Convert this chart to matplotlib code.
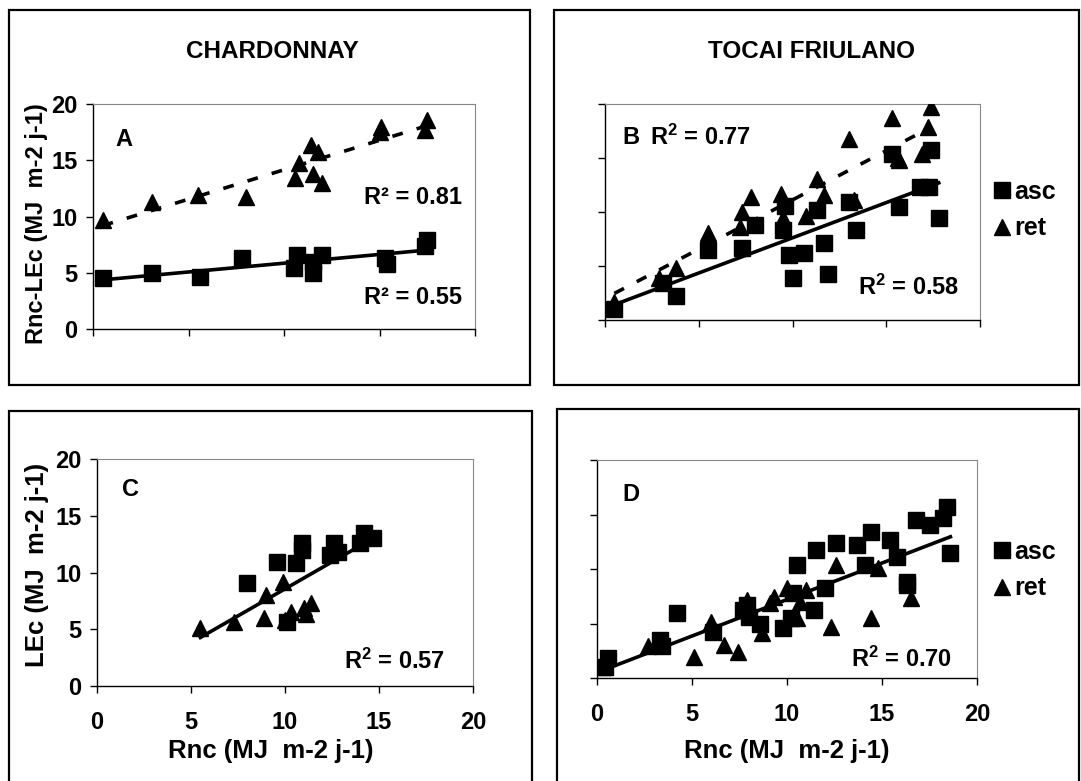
import numpy as np
import matplotlib.pyplot as plt
from matplotlib.patches import Rectangle
from matplotlib.lines import Line2D

plt.rcParams['font.family'] = ['Liberation Sans', 'DejaVu Sans']
plt.rcParams['font.weight'] = 'bold'
plt.rcParams['mathtext.fontset'] = 'custom'
plt.rcParams['mathtext.rm'] = 'Liberation Sans:bold'
plt.rcParams['mathtext.bf'] = 'Liberation Sans:bold'
plt.rcParams['mathtext.it'] = 'Liberation Sans:bold'

# --- A : Chardonnay, Rnc-LEc vs Rnc ---
a_asc_x = [0.5, 3.1, 5.6, 7.8, 10.5, 10.7, 11.5, 11.5, 12.0, 15.3, 15.4, 17.5, 17.4]
a_asc_y = [4.5, 5.0, 4.6, 6.3, 5.4, 6.6, 5.0, 6.0, 6.6, 6.3, 5.8, 7.9, 7.4]
a_ret_x = [0.5, 3.1, 5.5, 8.0, 10.6, 10.8, 11.4, 11.8, 11.5, 12.0, 15.1, 15.0, 17.5, 17.4]
a_ret_y = [9.7, 11.3, 11.9, 11.7, 13.4, 14.8, 16.4, 15.7, 13.8, 13.0, 18.0, 17.5, 18.6, 17.7]

# --- B : Tocai friulano, Rnc-LEc vs Rnc ---
b_asc_x = [0.5, 3.1, 3.8, 5.5, 7.3, 8.0, 9.5, 9.6, 9.8, 10.0, 10.6, 11.3, 11.7, 11.9,
           13.0, 13.4, 15.7, 16.8, 17.3, 17.8, 15.3, 17.4]
b_asc_y = [1.0, 3.4, 2.2, 6.5, 6.7, 8.8, 8.3, 10.6, 6.0, 3.9, 6.2, 10.2, 7.1, 4.3,
           10.9, 8.3, 10.5, 12.3, 12.3, 9.4, 15.4, 15.7]
b_ret_x = [0.5, 2.9, 3.8, 5.5, 7.2, 7.3, 7.8, 9.4, 9.5, 10.7, 11.3, 11.7, 13.0, 13.3,
           15.3, 15.7, 16.9, 17.2, 17.4, 15.6]
b_ret_y = [1.7, 3.9, 4.8, 8.1, 8.6, 10.0, 11.4, 11.7, 9.4, 9.6, 13.1, 11.6, 16.8, 11.1,
           18.7, 14.8, 15.4, 17.9, 19.7, 15.0]

# --- C : Chardonnay, LEc vs Rnc ---
c_asc_x = [8.0, 9.6, 10.6, 10.9, 10.9, 12.4, 12.6, 12.8, 14.0, 14.2, 14.7, 10.1]
c_asc_y = [9.1, 10.9, 10.8, 12.6, 12.0, 11.5, 12.6, 11.8, 12.6, 13.5, 13.0, 5.6]
c_ret_x = [5.5, 7.3, 8.9, 9.0, 9.9, 10.0, 10.3, 11.0, 11.1, 11.4]
c_ret_y = [5.1, 5.6, 6.0, 8.0, 9.2, 5.8, 6.5, 6.9, 6.3, 7.3]

# --- D : Tocai friulano, LEc vs Rnc ---
d_asc_x = [0.6, 0.4, 3.3, 3.4, 4.2, 6.1, 7.7, 8.0, 7.9, 8.6, 9.8, 10.2, 10.5, 10.3,
           11.4, 11.5, 12.0, 12.6, 13.7, 14.4, 14.1, 15.4, 15.8, 16.3, 16.8, 17.5,
           18.2, 18.4, 18.6, 16.3]
d_asc_y = [1.8, 1.0, 3.5, 2.9, 6.0, 4.2, 6.2, 5.6, 6.7, 5.0, 4.6, 5.5, 10.4, 7.8,
           6.2, 11.7, 8.3, 12.4, 12.2, 13.4, 10.4, 12.7, 11.1, 8.8, 14.5, 14.0,
           14.7, 15.7, 11.5, 8.5]
d_ret_x = [0.3, 2.7, 5.1, 6.0, 6.7, 7.4, 7.9, 8.7, 9.3, 10.0, 10.5, 11.0, 12.3, 12.6,
           14.4, 14.8, 16.5, 9.1, 10.7]
d_ret_y = [1.0, 2.9, 1.9, 5.1, 3.0, 2.4, 7.2, 4.1, 7.4, 8.3, 5.5, 8.1, 4.7, 10.4,
           5.5, 10.1, 7.3, 6.9, 7.0]

W, H = 1081, 781
fig = plt.figure(figsize=(W / 100, H / 100), dpi=100)


def px_rect(l, t, r, b):
    return [l / W, 1 - b / H, (r - l) / W, (b - t) / H]


def fitline(ax, x, y, ls):
    k = np.polyfit(x, y, 1)
    xs = np.array([min(x), max(x)])
    ax.plot(xs, np.polyval(k, xs), color='k', lw=2.6, ls=ls, zorder=3)


def setup(ax, xlabels, ylabels):
    ax.set_xlim(0, 20)
    ax.set_ylim(0, 20)
    ax.set_xticks([0, 5, 10, 15, 20])
    ax.set_yticks([0, 5, 10, 15, 20])
    for s in ['top', 'right']:
        ax.spines[s].set_color('#888888')
        ax.spines[s].set_linewidth(0.8)
    for s in ['left', 'bottom']:
        ax.spines[s].set_color('k')
        ax.spines[s].set_linewidth(1.0)
    ax.tick_params(direction='out', length=5, width=1, labelsize=17,
                   labelbottom=xlabels, labelleft=ylabels)
    ax.tick_params(axis='x', pad=13)
    ax.tick_params(axis='y', pad=6)


def points(ax, ax_, ay_, rx_, ry_):
    ax.plot(ax_, ay_, ls='none', marker='s', ms=11.5, color='k', zorder=4)
    ax.plot(rx_, ry_, ls='none', marker='^', ms=12, color='k', zorder=4)


def side_legend(ypix):
    h = [Line2D([], [], ls='none', marker='s', ms=11, color='k'),
         Line2D([], [], ls='none', marker='^', ms=11, color='k')]
    fig.legend(h, ['asc', 'ret'], loc='center left',
               bbox_to_anchor=(993 / W, 1 - ypix / H), frameon=False,
               fontsize=18, handlelength=0.7, handletextpad=0.15,
               labelspacing=0.5, borderpad=0, borderaxespad=0)


# panel A
axA = fig.add_axes(px_rect(93, 104, 475, 329))
setup(axA, False, True)
points(axA, a_asc_x, a_asc_y, a_ret_x, a_ret_y)
fitline(axA, a_asc_x, a_asc_y, '-')
fitline(axA, a_ret_x, a_ret_y, (0, (3, 4)))
axA.text(1.6, 16.8, 'A', fontsize=17, ha='center', va='center')
axA.text(19.3, 11.7, 'R² = 0.81', fontsize=17, ha='right', va='center')
axA.text(19.3, 2.8, 'R² = 0.55', fontsize=17, ha='right', va='center')
fig.text(37 / W, 1 - 224 / H, 'Rnc-LEc (MJ  m-2 j-1)', rotation=90,
         fontsize=17, ha='center', va='center')

# panel B
axB = fig.add_axes(px_rect(605, 104, 980, 320))
setup(axB, False, False)
points(axB, b_asc_x, b_asc_y, b_ret_x, b_ret_y)
fitline(axB, b_asc_x, b_asc_y, '-')
fitline(axB, b_ret_x, b_ret_y, (0, (3, 4)))
axB.text(1.4, 16.9, 'B', fontsize=17, ha='center', va='center')
axB.text(2.4, 16.9, r'R$^{2}$ = 0.77', fontsize=17, ha='left', va='center')
axB.text(18.9, 3.0, r'R$^{2}$ = 0.58', fontsize=17, ha='right', va='center')
side_legend(210)

# panel C
axC = fig.add_axes(px_rect(97, 459, 473, 686))
setup(axC, True, True)
points(axC, c_asc_x, c_asc_y, c_ret_x, c_ret_y)
fitline(axC, c_asc_x + c_ret_x, c_asc_y + c_ret_y, '-')
axC.text(1.8, 17.3, 'C', fontsize=17, ha='center', va='center')
axC.text(18.5, 2.2, r'R$^{2}$ = 0.57', fontsize=17, ha='right', va='center')
fig.text(37 / W, 1 - 565 / H, 'LEc (MJ  m-2 j-1)', rotation=90,
         fontsize=18.5, ha='center', va='center')
fig.text(271 / W, 1 - 751 / H, 'Rnc (MJ  m-2 j-1)', fontsize=18.5,
         ha='center', va='center')

# panel D
axD = fig.add_axes(px_rect(597, 460, 977, 678))
setup(axD, True, False)
points(axD, d_asc_x, d_asc_y, d_ret_x, d_ret_y)
fitline(axD, d_asc_x + d_ret_x, d_asc_y + d_ret_y, '-')
axD.text(1.8, 16.8, 'D', fontsize=17, ha='center', va='center')
axD.text(18.7, 1.7, r'R$^{2}$ = 0.70', fontsize=17, ha='right', va='center')
fig.text(787 / W, 1 - 751 / H, 'Rnc (MJ  m-2 j-1)', fontsize=18.5,
         ha='center', va='center')
side_legend(570)

# titles
fig.text(272 / W, 1 - 52 / H, 'CHARDONNAY', fontsize=17.5, ha='center', va='center')
fig.text(812 / W, 1 - 52 / H, 'TOCAI FRIULANO', fontsize=17.5, ha='center', va='center')

# panel frames
for l, t, r, b in [(9, 10, 530, 385), (554, 10, 1079, 385),
                   (9, 411, 532, 790), (557, 409, 1079, 790)]:
    fig.add_artist(Rectangle((l / W, 1 - b / H), (r - l) / W, (b - t) / H,
                             transform=fig.transFigure, fill=False,
                             ec='k', lw=1.6))

fig.savefig('out.png', dpi=100)
